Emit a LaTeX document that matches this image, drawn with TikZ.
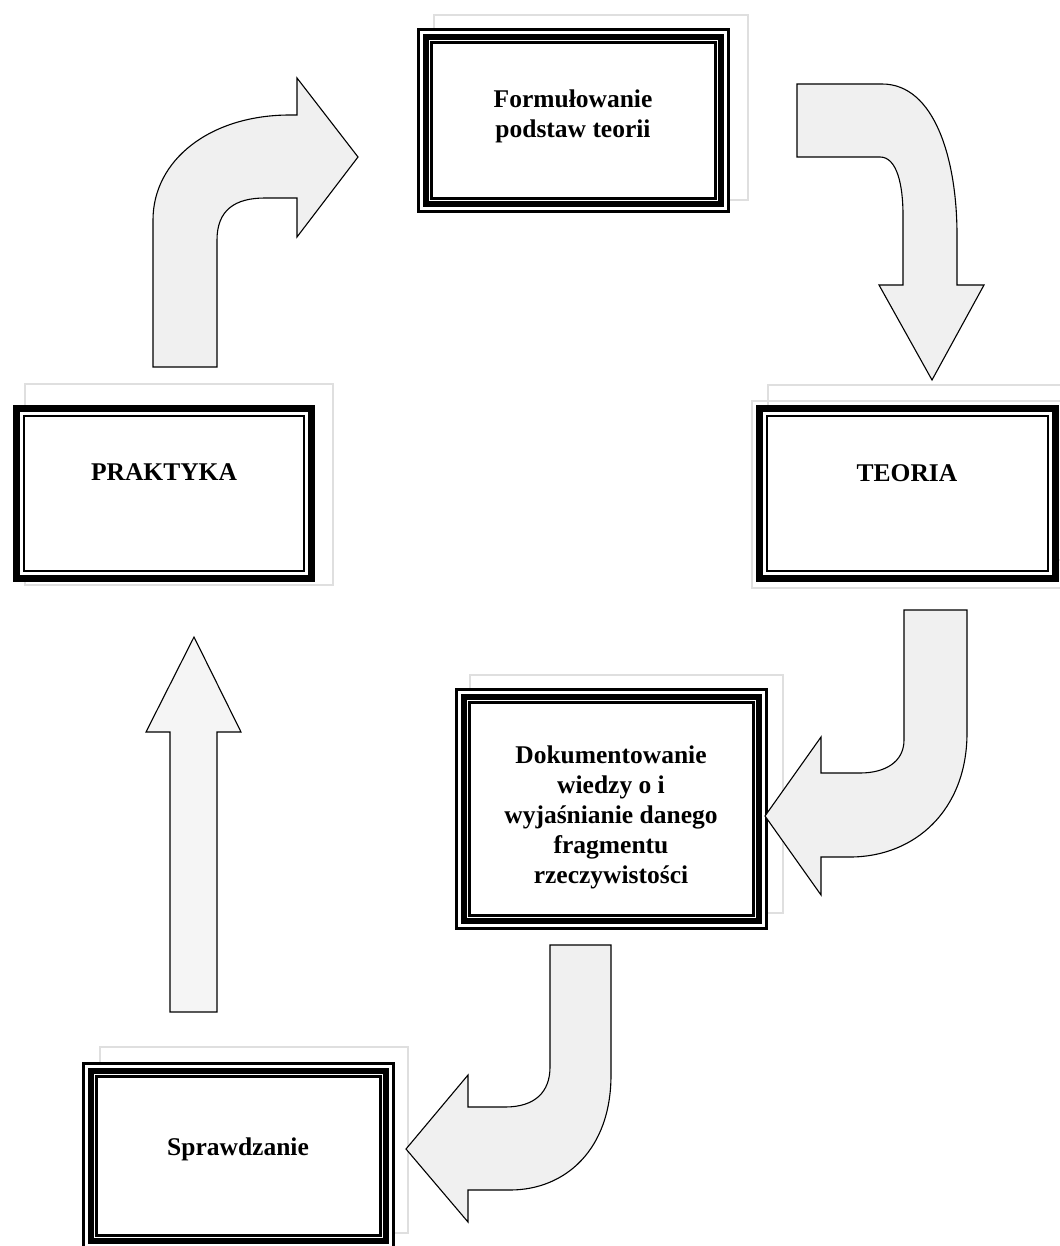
\documentclass[tikz,border=0pt]{standalone}
\usepackage{fontspec}
\setmainfont{Liberation Serif}

% thin-thick-thin frame filling the rectangle (x1,y1)-(x2,y2)
\newcommand\framethree[4]{%
  \fill[white] (#1,#2) rectangle (#3,#4);
  \draw[line width=2.7pt] (#1+1.35,#2+1.35) rectangle (#3-1.35,#4-1.35);
  \draw[line width=6pt] (#1+8.7,#2+8.7) rectangle (#3-8.7,#4-8.7);
  \draw[line width=2.7pt] (#1+14.65,#2+14.65) rectangle (#3-14.65,#4-14.65);}

% thick-thin frame filling the rectangle (x1,y1)-(x2,y2)
\newcommand\frametwo[4]{%
  \fill[white] (#1,#2) rectangle (#3,#4);
  \draw[line width=7pt] (#1+3.5,#2+3.5) rectangle (#3-3.5,#4-3.5);
  \draw[line width=2.3pt] (#1+11.15,#2+11.15) rectangle (#3-11.15,#4-11.15);}

\begin{document}
\begin{tikzpicture}[x=1pt,y=-1pt,
  lbl/.style={font=\bfseries\fontsize{25.5}{30}\selectfont, align=center, inner sep=0pt},
  blockarrow/.style={fill=gray!12, draw=black, line width=1.1pt, line join=miter},
  ghost/.style={draw=gray!25, line width=1.4pt}]
\useasboundingbox (0,0) rectangle (1059,1246);
\fill[white] (0,0) rectangle (1059,1246);

% faint outlines behind the frames
\draw[ghost] (434,15) rectangle (748,200);
\draw[ghost] (25,384) rectangle (333,585);
\draw[ghost] (768,385) rectangle (1075,560);
\draw[ghost] (752,401) rectangle (1062,588);
\draw[ghost] (470,675) rectangle (783,913);
\draw[ghost] (100,1047) rectangle (408,1233);

% frames
\framethree{417}{28}{730}{213}
\frametwo{13}{405}{315}{582}
\frametwo{756}{405}{1059}{582}
\framethree{455}{688}{768}{930}
\framethree{82}{1062}{395}{1250}

% labels
\node[lbl] (F) at (573,116) {Formułowanie\\podstaw teorii};
\node[lbl] (P) at (164,472) {PRAKTYKA};
\node[lbl] (T) at (907,473) {TEORIA};
\node[lbl] (D) at (611,817) {Dokumentowanie\\wiedzy o i\\wyjaśnianie danego\\fragmentu\\rzeczywistości};
\node[lbl] (S) at (238,1149) {Sprawdzanie};

% PRAKTYKA -> Formulowanie: up, then right
\draw[blockarrow] (153,367) -- (153,220)
  .. controls (153,160) and (210,115) .. (290,115) -- (297,115)
  -- (297,78) -- (358,157) -- (297,237) -- (297,198) -- (265,198)
  .. controls (235,198) and (217,210) .. (217,240) -- (217,367) -- cycle;

% Formulowanie -> TEORIA: right, then down
\draw[blockarrow] (797,84) -- (882,84)
  .. controls (935,84) and (957,160) .. (957,235) -- (957,285)
  -- (984,285) -- (932,380) -- (879,285) -- (903,285) -- (903,215)
  .. controls (903,185) and (897,157) .. (880,157) -- (797,157) -- cycle;

% TEORIA -> Dokumentowanie: down, then left
\draw[blockarrow] (904,610) -- (967,610) -- (967,733)
  .. controls (967,810) and (915,857) .. (850,857) -- (821,857)
  -- (821,895) -- (765,816) -- (821,737) -- (821,773) -- (860,773)
  .. controls (885,773) and (904,762) .. (904,740) -- cycle;

% Dokumentowanie -> Sprawdzanie: down, then left
\draw[blockarrow] (550,945) -- (611,945) -- (611,1075)
  .. controls (611,1150) and (565,1190) .. (510,1190) -- (468,1190)
  -- (468,1222) -- (406,1149) -- (468,1075) -- (468,1107) -- (505,1107)
  .. controls (535,1107) and (550,1092) .. (550,1067) -- cycle;

% Sprawdzanie -> PRAKTYKA: straight up
\draw[blockarrow, fill=gray!8] (170,1012) -- (170,732) -- (146,732)
  -- (194,637) -- (241,732) -- (217,732) -- (217,1012) -- cycle;
\end{tikzpicture}
\end{document}
